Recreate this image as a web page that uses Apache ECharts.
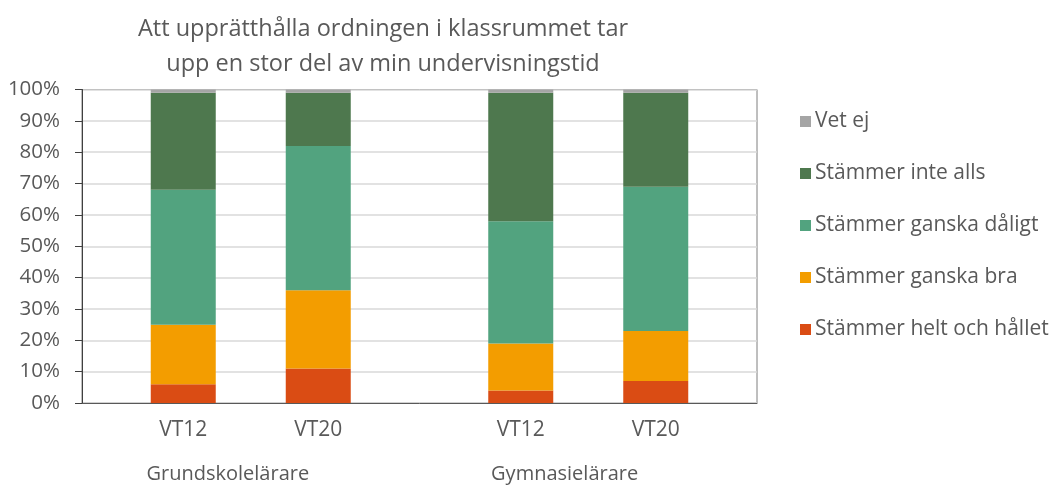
<!DOCTYPE html>
<html>
<head>
<meta charset="utf-8">
<script src="https://cdn.jsdelivr.net/npm/echarts@6/dist/echarts.min.js"></script>
<style>html,body{margin:0;padding:0;background:#fff}#c{width:1055px;height:485px}</style>
</head>
<body>
<div id="c"></div>
<script>
// ---- data ----
const titleText = 'Att upprätthålla ordningen i klassrummet tar\nupp en stor del av min undervisningstid';
const periods = ['VT12', 'VT20', 'VT12', 'VT20'];
const groups = ['Grundskolelärare', 'Gymnasielärare'];
const seriesNames = ['Stämmer helt och hållet', 'Stämmer ganska bra', 'Stämmer ganska dåligt', 'Stämmer inte alls', 'Vet ej'];
const heltOchHallet = [6, 11, 4, 7];
const ganskaBra = [19, 25, 15, 16];
const ganskaDaligt = [43, 46, 39, 46];
const inteAlls = [31, 17, 41, 30];
const vetEj = [1, 1, 1, 1];
const yTicks = [0, 10, 20, 30, 40, 50, 60, 70, 80, 90, 100];

// ---- layout (half-slot axis positions) ----
const slotCount = 10;
const barSlots = [1, 3, 6, 8];
const colors = ['#DA4C14', '#F39D00', '#52A37F', '#4E784E', '#A5A5A5'];
const font = 'Open Sans, Noto Sans, sans-serif';

const cats = new Array(slotCount).fill('');
barSlots.forEach((s, i) => cats[s] = periods[i]);
function place(arr) {
  const out = new Array(slotCount).fill(null);
  barSlots.forEach((s, i) => out[s] = arr[i]);
  return out;
}
const allValues = [heltOchHallet, ganskaBra, ganskaDaligt, inteAlls, vetEj];

const chart = echarts.init(document.getElementById('c'));
chart.setOption({
  animation: false,
  title: {
    text: titleText,
    left: 378, top: 7, textAlign: 'center',
    textStyle: { fontFamily: font, fontSize: 23.5, fontWeight: 'normal', color: '#595959', lineHeight: 35 }
  },
  grid: { left: 82, right: 298, top: 89.5, bottom: 82, show: true, borderColor: '#7f7f7f', borderWidth: 1 },
  legend: {
    orient: 'vertical', left: 795, top: 106,
    data: seriesNames.slice().reverse(),
    itemWidth: 11, itemHeight: 11, itemGap: 31,
    icon: 'rect',
    textStyle: { fontFamily: font, fontSize: 21, color: '#595959', padding: [0, 0, 0, -1] }
  },
  xAxis: {
    type: 'category', data: cats,
    axisLine: { lineStyle: { color: '#595959', width: 1 } },
    axisTick: { show: false },
    axisLabel: { interval: 0, fontFamily: font, fontSize: 21, color: '#595959', margin: 17 }
  },
  yAxis: {
    type: 'value', min: 0, max: 100, interval: 10,
    axisLine: { show: true, lineStyle: { color: '#404040' } },
    axisTick: { show: true, length: 7, lineStyle: { color: '#404040' } },
    splitLine: { lineStyle: { color: '#D9D9D9', width: 1.5 } },
    axisLabel: { fontFamily: font, fontSize: 20.5, color: '#595959', margin: 22, formatter: v => v + '%' }
  },
  series: seriesNames.map((n, i) => ({
    name: n, type: 'bar', stack: 'total',
    data: place(allValues[i]),
    barWidth: 65,
    itemStyle: { color: colors[i] }
  }))
});

// group labels centered from the axis positions
const p0 = chart.convertToPixel({ xAxisIndex: 0 }, 0);
const p1 = chart.convertToPixel({ xAxisIndex: 0 }, 1);
const slotW = p1 - p0;
const groupCenters = [2.16, 7.15];
chart.setOption({
  graphic: groups.map((g, i) => ({
    type: 'text',
    x: p0 - slotW / 2 + groupCenters[i] * slotW,
    y: 474,
    style: { text: g, fontFamily: font, fontSize: 20, fill: '#595959', align: 'center', verticalAlign: 'middle' }
  }))
});
</script>
</body>
</html>
